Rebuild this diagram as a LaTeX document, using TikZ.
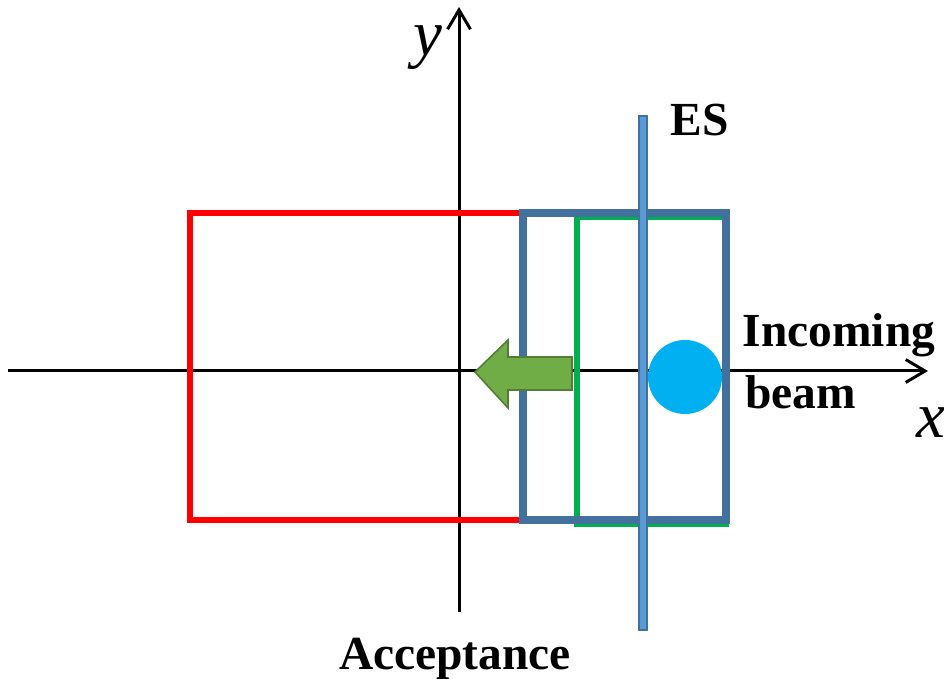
\documentclass[tikz,border=0pt]{standalone}
\usepackage{fontspec}
\setmainfont{Liberation Serif}
\usepackage{xcolor}
\usetikzlibrary{
  arrows.meta,
  positioning,
  calc
}
\definecolor{vermelho}{HTML}{FF0000}
\definecolor{azulborda}{HTML}{41719C}
\definecolor{azulfaixa}{HTML}{5B9BD5}
\definecolor{verde}{HTML}{00B050}
\definecolor{ciano}{HTML}{00B0F0}
\definecolor{verdeseta}{HTML}{70AD47}
\definecolor{verdesetaborda}{HTML}{507E32}

\begin{document}
\begin{tikzpicture}[
      eixo/.style={-{Straight Barb[length=11pt, width=13pt, line width=1.7pt]}, line width=1.7pt, black},
      rotulo/.style={font=\fontsize{27}{31}\selectfont\bfseries, inner sep=0pt},
      rotuloeixo/.style={font=\fontsize{37}{40}\selectfont\itshape, inner sep=0pt},
      caixa/.style={line width=3.6pt},
      faixa/.style={fill=azulfaixa, draw=azulborda, line width=0.8pt}
  ]
      \useasboundingbox (0,0) rectangle (18.88,13.58);

      % Eixos
      \coordinate (xini) at (0.16, 6.16);
      \coordinate (xfim) at (18.56, 6.16);
      \coordinate (yini) at (9.18, 1.34);
      \coordinate (yfim) at (9.18, 13.44);
      \draw[eixo] (xini) -- (xfim);
      \draw[eixo] (yini) -- (yfim);

      % Retângulos
      \draw[caixa, vermelho] (3.80, 3.18) rectangle (10.46, 9.32);
      \draw[caixa, verde, line width=3pt] (11.54, 3.10) rectangle (14.52, 9.24);
      \draw[caixa, azulborda, line width=4pt] (10.46, 3.18) rectangle (14.52, 9.32);

      % Faixa ES e feixe
      \draw[faixa] (12.78, 0.98) rectangle (12.94, 11.26);
      \fill[ciano] (13.70, 6.04) circle (0.74);

      % Seta verde
      \draw[fill=verdeseta, draw=verdesetaborda, line width=0.9pt]
        (9.50, 6.14) -- (10.16, 6.78) -- (10.16, 6.44) -- (11.44, 6.44)
        -- (11.44, 5.78) -- (10.16, 5.78) -- (10.16, 5.42) -- cycle;

      % Rótulos
      \node[rotuloeixo] (ylab) at (8.56, 12.62) {y};
      \node[rotuloeixo] (xlab) at (18.62, 5.12) {x};
      \node[rotulo] (es) at (14.0, 11.18) {ES};
      \node[rotulo] (inc) at (16.78, 6.88) {Incoming};
      \node[rotulo, anchor=west] (beam) at (14.90, 5.74) {beam};
      \node[rotulo] (acc) at (9.10, 0.40) {Acceptance};
  \end{tikzpicture}
\end{document}
